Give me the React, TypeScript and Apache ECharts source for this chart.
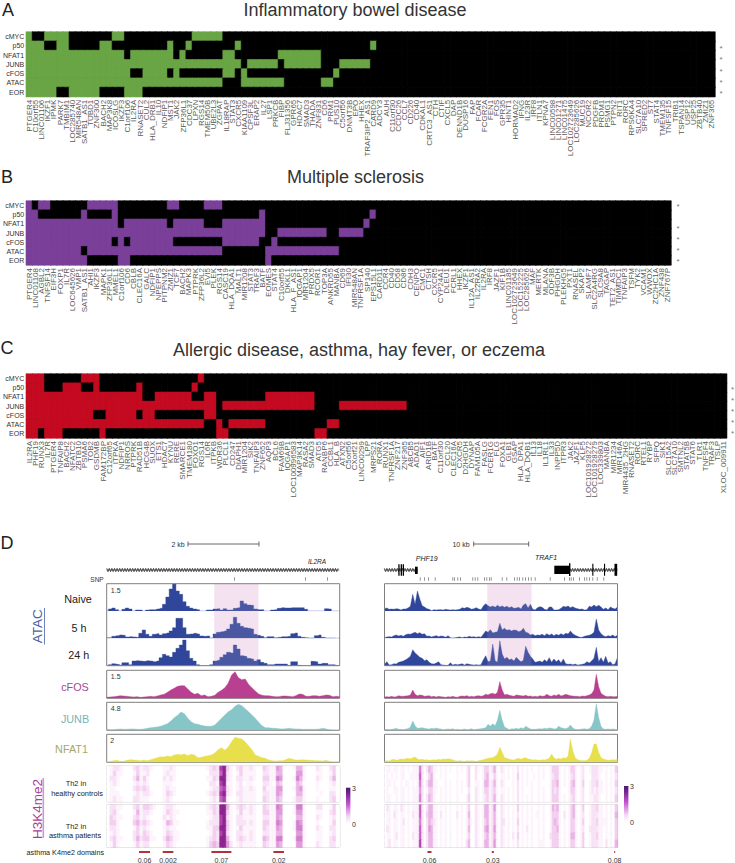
import React, { useEffect, useRef } from "react";
import * as echarts from "echarts";

const rowNames = ["cMYC", "p50", "NFAT1", "JUNB", "cFOS", "ATAC", "EOR"];

const genesA = ["PTGER4","C10orf55","LINC01106","IKZF1","IPMK","PARK7","TMBIM1","LOC285740","MIR548AN","SATB1_AS1","TUBD1","ZNF300","BACH2","MAP3K8","ICOSLG","IKZF3","C1orf106","IL2RA","RNASET2","CUL2","HLA_DRB1","IL10","NDFIP1","MST1","JAK2","ZFP36L1","CDC37","LPXN","RGS14","TMEM50B","UBE2L3","ZGPAT","IL18RAP","STAT3","CXCR5","KIAA1109","CPSF3L","ERAP2","IL27","LSP1","PRKCB","FIBP","FLJ31356","GPR65","HDAC7","SMAD3","THADA","ZNF831","CD6","PRM1","PUS10","C5orf56","DNMT3B","EPO","HHEX","TRAF3IP2_AS1","CARD9","ADCY3","AUH","C11orf30","CCDC26","CCL7","CD226","CD40","CDKAL1","CRTC3_AS1","CTH","CTIF","CXCL5","DAP","DENND1B","DUSP16","FAP","FCAR","FCGR2A","FEN1","FOS","GPR35","HINT1","HORMAD2","IFNG","IL23R","IRF8","ITLN1","KPNA7","LINC00598","LINC01271","LINC01475","LOC102723649","LOC285626","MUC19","NCOR2","PDGFB","PRDM1","PSMG1","PTPN2","RIT1","RORC","RPS6KA4","SLC7A10","SPRED2","ST7","STAT4","TMEM135","TNFSF15","TRIB1","TSPAN14","USP12","USP25","ZBTB40","ZMIZ1","ZNF365"];
const genesB = ["PTGER4","LINC01108","AGBL2","TNFSF14","EIF3H","FOXP1","IL7R","LOC645626","VMP1","SATB1_AS1","AHI1","IKZF3","MAPK1","ZFP36L1","MMEL1","C1orf106","CD6","CBLB","CLEC16A","GALC","NDFIP1","NPEPPS","PITPNM2","ZMIZ1","TCF7","BACH2","MAPK3","PTPRK","ZFP36L2","EVI5","PLEK","RGS14","CASC19","HLA_DQA1","MALT1","MIR1208","STAT3","TRAF3","BATF","EOMES","STAT4","C10orf55","DKKL1","HLA_F_AS1","IQGAP1","MIR1204","PRDX5","RCOR1","TOP3A","ANKRD55","MANBA","CD69","IFI30","MIR548AN","TNFRSF1A","SP140","EPS15L1","CARD11","CCR4","CD40","CD58","CD86","CDH3","CENPO","CMC1","CTSH","CXCR5","CYP24A1","DLEU1","FCRL1","HHEX","IKZF1","IL12A_AS1","IL22RA2","IL2RA","IRF8","JAZF1","KIF1B","LINC01185","LOC102723649","LOC152225","LOC285626","MAF","MERTK","MLANA","ODF3B","PHGDH","PLEKHG5","PXT1","RNASEL","SKAP2","SLAMF7","SLC2A4RG","SLC9A8","TAGAP","TET2_AS1","TIMMDC1","TNFAIP3","TSFM","TYK2","VCAM1","WWOX","ZC2HC1A","ZNF438","ZNF767P"];
const genesC = ["IL2RA","PHF19","RUNX3","IL7R","PTGER4","TNFAIP8","BACH2","NFATC2","ZBTB10","PSMA6","TOB2","GSDMB","FAM172BP","C12orf65","ITPKA","NDFIP1","NRROS","PTPRK","RAD51B","HCG4B","SUOX","ETS1","HDAC7","KYNU","RERE","SMARCE1","TMEM180","FOXO1","RGS14","IL6R","ITPKB","WDR36","PLCL1","CD247","DIAPH1","MIR1204","SIK2","TNFAIP3","ZNF652","AQP3","BCL6","FAM69B","IQGAP1","LOC100996583","MAP3K14","RASA2","SMAD3","ATG5","RANBP6","CCBL1","HLA_B","ATXN2","C5orf56","CXorf21","LINC00299","LPP","MRPS21","RORA","RUNX1","TNFRSF1A","ZNF217","ZNF365","ABCB5","ADAD1","AIF1","ARID1B","BATF","C11orf30","CCL20","CLEC16A","CXCR5","D2HGDH","DYNAP","FAM105A","FASLG","FCER1G","FLG","FOXA1","GLB1","GSAP","HLA_DPA1","HLA_DQB1","IL13","IL18","IL1RL1","IL33","INPP5D","ITPR3","JAK2","JAZF1","KLF5","LOC101928272","LOC101928279","LOC339803","MANBA","MIR1234","MIR146A","MIR4435_2HG","RNASET2","RORC","RTEL1","RYBP","SFPQ","SIK1","SLC15A2","SLC7A10","SMTNL2","STAT5B","STAT6","TLR1","TNFSF4","TRAF3","TSLP","XLOC_009911"];

// enrichment: column runs [first,last] switched on, per row
const onA = [
  [[0,0],[3,6],[14,15],[27,31]],
  [[0,2],[5,6],[12,13],[23,23],[26,26],[34,34],[56,56]],
  [[0,15],[17,23],[25,25],[32,33],[41,47]],
  [[0,34],[36,40],[42,47],[51,55]],
  [[0,16],[19,22],[24,24],[32,33],[35,35],[50,50]],
  [[0,31],[35,41],[48,49]],
  [[0,4],[7,11],[16,18]],
];
const onB = [
  [[0,0],[2,3],[10,14],[23,24],[29,31]],
  [[0,1],[9,9],[14,14],[38,38],[56,56]],
  [[0,14],[16,22],[24,28],[32,38],[55,55]],
  [[0,38],[41,48],[51,54]],
  [[0,13],[15,15],[17,23],[32,37],[40,40]],
  [[0,8],[10,31],[39,50]],
  [[0,9],[15,16],[39,39]],
];
const onC = [
  [[0,2],[9,11],[28,28]],
  [[0,2],[6,8],[11,11],[18,18],[27,27]],
  [[0,18],[21,26],[29,30],[39,46]],
  [[0,30],[32,46],[51,61]],
  [[0,10],[13,17],[19,20],[29,30]],
  [[0,28],[31,31],[33,38],[49,50]],
  [[0,1],[3,5],[12,12],[31,32],[47,48]],
];

// tracks, left locus (IL2RA)
const naiveL = [0,6,9,4,0,5,9,6,0,3,3,0,3,4,4,6,8,20,42,66,82,60,50,28,14,9,6,4,0,0,3,3,6,7,3,7,3,3,8,10,30,22,18,17,6,4,4,0,0,3,4,8,10,9,9,10,10,10,10,5,0,0,0,0,0,7,6,0,0,0];
const fiveL = [2,2,6,8,10,9,4,5,4,3,15,25,12,6,12,14,10,14,16,22,32,60,60,32,12,13,15,13,7,6,7,1,13,18,20,22,28,42,63,45,36,32,30,28,12,9,6,2,5,5,2,3,5,5,6,14,16,6,3,2,1,1,8,10,3,1,1,1,0,2];
const dayL = [0,3,6,4,2,9,9,3,14,15,14,13,15,14,12,14,24,34,30,26,40,52,62,77,45,22,14,3,0,0,0,3,14,16,25,33,40,38,62,50,30,28,22,20,14,18,10,7,3,3,5,5,5,5,1,12,12,1,0,0,0,13,12,5,7,7,3,3,1,0];
const cfosL = [3,4,5,6,8,7,6,5,4,5,3,4,5,6,5,7,10,12,18,25,30,36,38,38,28,18,12,15,8,10,5,6,9,18,24,32,46,70,80,62,56,58,42,32,22,13,9,8,8,6,5,5,7,7,6,5,8,13,12,6,6,8,8,6,8,10,9,5,6,5];
const junbL = [3,2,2,3,4,3,3,4,4,3,3,4,6,8,9,10,12,16,20,28,38,45,55,50,36,26,20,18,15,13,12,12,16,26,36,46,56,62,72,78,74,65,56,46,36,24,14,8,8,6,6,5,4,5,6,5,4,4,3,3,3,3,3,4,6,4,2,1,0,0];
const nfatL = [2,3,5,6,3,3,6,8,7,6,5,7,5,8,11,14,17,16,19,17,22,24,22,25,20,24,22,14,15,18,20,22,28,38,44,36,46,62,75,72,70,62,50,38,22,18,14,12,7,5,4,5,5,8,12,9,7,7,8,7,6,6,5,5,4,6,3,1,0,0];

// tracks, right locus (PHF19 / TRAF1)
const naiveR = [7,9,5,6,5,7,6,3,6,6,9,14,50,20,60,36,16,12,7,5,1,4,3,4,4,3,5,4,3,4,3,4,5,10,8,11,9,5,7,10,6,4,15,22,16,12,15,11,17,12,15,11,14,10,13,8,9,11,6,18,22,9,20,5,3,10,13,11,5,3,12,12,3,3,4,8,14,12,15,10,13,9,7,5,6,3,4,14,12,18,13,17,12,5,9,4,12,8,6,12];
const fiveR = [2,4,5,4,8,10,7,9,6,11,13,12,15,18,14,17,12,14,6,7,4,6,8,5,7,6,3,8,2,1,2,3,4,2,4,3,6,4,5,3,5,3,12,22,18,26,16,18,20,45,25,30,24,26,22,25,24,20,22,30,18,16,10,12,8,10,9,12,8,14,9,13,8,12,9,14,10,15,13,22,14,9,6,3,3,6,8,9,12,18,58,25,14,8,5,8,6,10,5,10];
const dayR = [4,12,2,3,6,5,10,12,14,18,22,28,48,38,32,25,22,15,18,10,6,5,8,12,3,2,1,1,9,2,4,3,4,6,2,6,4,3,2,3,2,3,18,30,12,14,65,15,10,75,35,20,25,18,20,14,25,18,12,16,58,40,28,20,10,12,14,10,18,12,24,10,20,12,18,8,20,6,4,5,3,5,2,3,4,6,12,8,14,22,55,12,24,10,28,8,12,3,6,25];
const cfosR = [4,5,4,6,4,5,8,6,6,7,8,10,25,12,8,10,9,6,7,8,5,6,4,6,5,4,3,5,4,6,4,3,6,7,6,8,5,6,5,7,8,6,8,12,10,14,15,12,18,50,25,10,12,9,8,6,10,9,8,7,9,6,7,5,6,5,8,6,7,12,8,6,10,8,12,7,9,12,10,8,7,6,6,5,7,6,8,10,14,25,72,35,15,10,6,5,6,5,5,6];
const junbR = [2,3,2,3,4,6,3,3,2,4,5,10,28,14,6,7,8,6,5,4,6,5,7,5,4,2,3,4,3,5,2,3,2,2,4,2,3,5,2,3,4,5,6,8,18,12,20,14,30,60,30,10,6,2,5,4,6,4,8,5,12,8,4,3,3,4,5,4,6,5,7,6,4,5,12,8,6,5,8,16,7,3,2,3,4,5,3,5,12,30,80,38,12,4,3,4,3,4,3,2];
const nfatR = [3,5,4,8,9,6,8,10,9,11,12,10,14,16,10,8,9,7,8,6,7,8,7,9,8,10,9,11,9,8,5,4,5,4,3,5,4,5,4,3,5,6,8,10,12,13,14,18,25,45,30,14,12,9,8,7,10,12,9,12,14,10,9,7,8,7,6,8,7,9,12,25,14,9,12,10,14,12,18,70,35,14,8,6,5,5,6,12,28,55,55,30,14,10,8,6,7,8,7,10];

// H3K4me2 read-density rows, one digit per bin (0 = none, 9 = highest)
const healthyL = [
  "0122100023"+"1221000112"+"1000000000"+"1232893102"+"3112100321"+"1540001441"+"0002100230",
  "0131100013"+"1120000121"+"1000000000"+"0222792101"+"3111100221"+"1440000551"+"0001100130",
  "0221000024"+"1310000212"+"1000000000"+"1132992102"+"2112100331"+"1650001641"+"0002100240",
  "0121000012"+"1210000111"+"0000000000"+"0221891101"+"2011000221"+"0430000430"+"0001000120",
  "0110000023"+"2320000121"+"1000000000"+"0122782101"+"2112100311"+"1550001451"+"0001000110",
  "0111000012"+"1221000132"+"1000000000"+"1232892102"+"2111100221"+"1540000441"+"0000100220",
  "0121100022"+"1110000121"+"0000000000"+"0121781001"+"2111100321"+"1430001331"+"0001000230",
];
const asthmaL = [
  "0221100023"+"1332100122"+"1000000000"+"1232994102"+"3212100321"+"1650001661"+"0002200130",
  "0231000014"+"1221000132"+"1100000000"+"1132993101"+"3112100331"+"1550001551"+"0001100230",
  "0321100023"+"1210000212"+"1000000000"+"0122892102"+"2111100221"+"1540000441"+"0002100120",
  "0331000034"+"2321000143"+"1100000000"+"1222893102"+"2212100331"+"1650001651"+"0001000130",
  "0221000013"+"1210000121"+"1000000000"+"1133993101"+"3111100321"+"1540001661"+"0002100220",
  "0121000023"+"1321000132"+"1100000000"+"0132892102"+"2112100221"+"1440000551"+"0001100120",
  "0231100024"+"2331100243"+"1100000000"+"1232994102"+"3212100431"+"1660001661"+"0001100230",
  "0131000013"+"1220000132"+"1000000000"+"1343995201"+"2111100321"+"1540000551"+"0002100220",
];
const healthyR = [
  "0110110110"+"1011162024"+"3110101010"+"0101013002"+"1013312410"+"2101010201"+"0101001010"+"0133310101"+"3310120012"+"2211010103",
  "0101010110"+"0111172013"+"4100101000"+"0100013002"+"0013411310"+"1101010301"+"0100101010"+"0123310101"+"2310120002"+"2210010102",
  "0110100101"+"1010162024"+"4110001010"+"0101013001"+"1014412410"+"2100010201"+"0101001000"+"0133410101"+"3410130012"+"2311010103",
  "0100110110"+"1011152013"+"3110101010"+"0101002002"+"1013312310"+"1101010201"+"0001001010"+"0132310001"+"3310120012"+"1211010102",
  "0110010110"+"1011162024"+"3100101010"+"0100013002"+"1012312410"+"2101010201"+"0101001010"+"0133310101"+"2310120011"+"2210010103",
];
const asthmaR = [
  "0210110210"+"1011172024"+"4110101010"+"0101013002"+"1014412510"+"2101010301"+"0101001010"+"0143410101"+"3410130012"+"2311010103",
  "0110210110"+"1021172034"+"4110201010"+"0201014002"+"1014412410"+"2101010201"+"0101011010"+"0133310201"+"3410120012"+"2211010104",
  "0110110120"+"1011162024"+"3210101010"+"0101013102"+"1013412410"+"2201010301"+"0101001010"+"0134310101"+"3310130012"+"2311110103",
  "0210110110"+"1011172025"+"4110101010"+"0101014002"+"1014512510"+"2101010201"+"0201001010"+"0133410101"+"3310120022"+"2211010103",
  "0110120110"+"1021172024"+"4110101010"+"0101013002"+"1013412410"+"2101020301"+"0101001010"+"0233310101"+"4410130012"+"2311010103",
  "0120110110"+"1011182024"+"4110101010"+"0101024002"+"1014412510"+"2101010201"+"0101001110"+"0133310101"+"3310130012"+"2211020104",
];
const densityPalette = ["#ffffff","#fdf4fc","#f9e3f7","#f3d0ef","#eab5e6","#e09bdc","#d27fce","#c362be","#ae42aa","#8f2591"];

const snpL = [383, 596, 662];
const snpR = [107,120,132,152,205,210,220,228,265,272,280,300,307,315,320,353,367,390,398,405,415,423,432,440,452,497,540,555,560,567,585,600,607,615,625,638,658];
const domainsL: [number, number, string][] = [[97,130,"0.06"],[168,200,"0.002"],[314,374,"0.07"],[500,532,"0.02"]];
const domainsR: [number, number, string][] = [[129,141,"0.06"],[322,328,"0.03"],[689,692,"0.08"]];

const FONT = "'Liberation Sans', Arial, sans-serif";
const ATAC_C = "#30469a", CFOS_C = "#b93f90", JUNB_C = "#86c5c8", NFAT_C = "#e7e04c";
const FRAME = "#7f7f7f";

function cell(c: number, r: number, v: number, color: string) {
  return { value: [c, r, v], itemStyle: { borderColor: color, borderWidth: 0.6 } };
}

function buildOption() {
  const grid: any[] = [], xAxis: any[] = [], yAxis: any[] = [], series: any[] = [], graphic: any[] = [], visualMap: any[] = [];

  const addGrid = (left: number, top: number, width: number, height: number, frame: boolean, x: any, y: any) => {
    grid.push({ left, top, width, height, show: frame, borderColor: FRAME, borderWidth: 1, backgroundColor: "transparent" });
    const i = grid.length - 1;
    xAxis.push({ gridIndex: i, ...x });
    yAxis.push({ gridIndex: i, ...y });
    return i;
  };
  const text = (t: string, x: number, y: number, size: number, fill: string, extra: any = {}, style: any = {}) =>
    graphic.push({
      type: "text", x, y, z: 30, silent: true, ...extra,
      style: { text: t, font: `${style.italic ? "italic " : ""}${size}px ${FONT}`, fill, align: style.align || "center", verticalAlign: "middle", textAlign: style.align || "center", textVerticalAlign: "middle" },
    });
  const line = (x1: number, y1: number, x2: number, y2: number, stroke: string, w = 0.8) =>
    graphic.push({ type: "line", z: 30, silent: true, shape: { x1, y1, x2, y2 }, style: { stroke, lineWidth: w } });
  const block = (x: number, y: number, width: number, height: number, fill = "#000") =>
    graphic.push({ type: "rect", z: 31, silent: true, shape: { x, y, width, height }, style: { fill } });
  const hatch = (x1: number, x2: number, y: number) => {
    const pts: number[][] = [];
    let up = true;
    for (let x = x1; x <= x2; x += 1.3) { pts.push([x, y + (up ? -1.7 : 1.7)]); up = !up; }
    graphic.push({ type: "polyline", z: 29, silent: true, shape: { points: pts }, style: { stroke: "#333", fill: "none", lineWidth: 0.8 } });
    line(x1, y, x2, y, "#333", 0.7);
  };

  // --- enrichment heatmaps
  const enrichment = (genes: string[], on: number[][][], color: string, left: number, top: number, width: number, height: number) => {
    const i = addGrid(left, top, width, height, false,
      { type: "category", data: genes, axisLine: { show: false }, axisTick: { show: false }, splitLine: { show: false },
        axisLabel: { interval: 0, rotate: 90, fontSize: 8, color: "#5a5a5a", margin: 3, fontFamily: FONT } },
      { type: "category", data: rowNames, inverse: true, axisLine: { show: false }, axisTick: { show: false }, splitLine: { show: false },
        axisLabel: { fontSize: 7, color: "#333", margin: 2, fontFamily: FONT } });
    const data: any[] = [];
    on.forEach((runs, r) => genes.forEach((_, c) => {
      const hit = runs.some(([a, b]) => c >= a && c <= b);
      data.push(cell(c, r, hit ? 1 : 0, hit ? color : "#000000"));
    }));
    series.push({ type: "heatmap", xAxisIndex: i, yAxisIndex: i, data, progressive: 0 });
    visualMap.push({ show: false, type: "continuous", min: 0, max: 1, dimension: 2, seriesIndex: series.length - 1, inRange: { color: ["#000000", color] } });
  };
  enrichment(genesA, onA, "#69a545", 26, 32, 689, 64.7);
  enrichment(genesB, onB, "#7a3f98", 25.3, 201, 645.7, 64);
  enrichment(genesC, onC, "#c40a20", 25.3, 374, 701.4, 64);

  // --- signal tracks
  const track = (vals: number[], color: string, left: number, top: number, height: number, frame: boolean, step: boolean) => {
    const i = addGrid(left, top, 233, height, frame,
      { type: "category", show: false, boundaryGap: false, data: vals.map((_, k) => k) },
      { type: "value", show: false, min: 0, max: height * 3, splitLine: { show: false } });
    series.push({ type: "line", xAxisIndex: i, yAxisIndex: i, data: vals, showSymbol: false, step: step ? "middle" : false,
      lineStyle: { width: 0.4, color }, itemStyle: { color }, areaStyle: { color, opacity: 1 }, clip: true });
  };
  const LX = 106.7, RX = 384.5;
  track(naiveL, ATAC_C, LX, 583.7, 27.3, false, true);
  track(fiveL, ATAC_C, LX, 611, 27.3, false, true);
  track(dayL, ATAC_C, LX, 638.3, 27.4, false, true);
  track(naiveR, ATAC_C, RX, 583.7, 27.3, false, false);
  track(fiveR, ATAC_C, RX, 611, 27.3, false, false);
  track(dayR, ATAC_C, RX, 638.3, 27.4, false, false);
  track(cfosL, CFOS_C, LX, 670.3, 28, true, false);
  track(junbL, JUNB_C, LX, 702.3, 28, true, false);
  track(nfatL, NFAT_C, LX, 734.3, 28, true, false);
  track(cfosR, CFOS_C, RX, 670.3, 28, true, false);
  track(junbR, JUNB_C, RX, 702.3, 28, true, false);
  track(nfatR, NFAT_C, RX, 734.3, 28, true, false);

  // --- H3K4me2 heatmaps
  const densitySeries: number[] = [];
  const density = (rows: string[], left: number, top: number, height: number) => {
    const cols = rows[0].length;
    const i = addGrid(left, top, 233, height, true,
      { type: "category", show: false, data: Array.from({ length: cols }, (_, k) => k) },
      { type: "category", show: false, inverse: true, data: rows.map((_, k) => k) });
    const data: any[] = [];
    rows.forEach((row, r) => { for (let c = 0; c < cols; c++) data.push(cell(c, r, Number(row[c]), densityPalette[Number(row[c])])); });
    series.push({ type: "heatmap", xAxisIndex: i, yAxisIndex: i, data, progressive: 0, z: 1 });
    densitySeries.push(series.length - 1);
  };
  density(healthyL, LX, 766.3, 35.4);
  density(asthmaL, LX, 805, 42);
  density(healthyR, RX, 766.3, 35.4);
  density(asthmaR, RX, 805, 42);
  visualMap.push({ show: false, type: "continuous", min: 0, max: 9, dimension: 2, seriesIndex: densitySeries, inRange: { color: densityPalette } });

  // --- SNP ticks
  const snp = (pos: number[], left: number, w: number) => {
    const i = addGrid(left, 577, w, 4, false,
      { type: "value", show: false, min: 0, max: w * 3, splitLine: { show: false } },
      { type: "value", show: false, min: 0, max: 1, splitLine: { show: false } });
    series.push({ type: "scatter", xAxisIndex: i, yAxisIndex: i, symbol: "rect", symbolSize: [0.7, 3.5], itemStyle: { color: "#444" },
      data: pos.map((p) => [p, 0.5]) });
  };
  snp(snpL, LX, 233);
  snp(snpR, RX, 233);

  // --- asthma domains
  const domains = (rows: [number, number, string][], left: number) => {
    const i = addGrid(left, 851, 233, 2, false,
      { type: "value", show: false, min: 0, max: 699, splitLine: { show: false } },
      { type: "value", show: false, min: 0, max: 1, splitLine: { show: false } });
    series.push({
      type: "custom", xAxisIndex: i, yAxisIndex: i, clip: false,
      data: rows.map((d) => [d[0], d[1], d[2]]),
      renderItem: (_: any, api: any) => {
        const a = api.coord([api.value(0), 1]);
        const b = api.coord([api.value(1), 0]);
        return {
          type: "group",
          children: [
            { type: "rect", shape: { x: a[0], y: a[1], width: Math.max(1, b[0] - a[0]), height: b[1] - a[1] }, style: { fill: "#b3323a" } },
            { type: "text", x: (a[0] + b[0]) / 2, y: a[1] + 9, style: { text: api.value(2), font: `7px ${FONT}`, fill: "#333", align: "center", verticalAlign: "middle" } },
          ],
        };
      },
      encode: { x: [0, 1], y: 0 },
      dimensions: [{ type: "number" }, { type: "number" }, { type: "ordinal" }],
    });
  };
  domains(domainsL, LX);
  domains(domainsR, RX);

  // --- titles and panel letters
  text("Inflammatory bowel disease", 355, 9.5, 18, "#333");
  text("Multiple sclerosis", 355.5, 177, 18, "#333");
  text("Allergic disease, asthma, hay fever, or eczema", 359, 350, 18, "#333");
  text("A", 8, 10, 18, "#222");
  text("B", 7, 177, 18, "#222");
  text("C", 7, 348, 18, "#222");
  text("D", 7, 543, 18, "#222");

  // --- significance marks
  [47.7, 58.7, 70, 81, 92].forEach((y) => text("*", 721, y + 1, 8, "#777"));
  [205, 227.3, 238.3, 249.7, 260.7].forEach((y) => text("*", 678, y + 1, 8, "#777"));
  [388.7, 399.7, 410.3, 421.7, 432.7].forEach((y) => text("*", 732.5, y + 1, 8, "#777"));

  // --- ATAC frames and shading
  [LX, RX].forEach((x, k) => {
    graphic.push({ type: "rect", z: -1, silent: true, shape: { x: k ? 487.3 : 214.3, y: 584, width: 44.2, height: 81.5 }, style: { fill: "#f6e7f3" } });
    graphic.push({ type: "rect", z: 8, silent: true, shape: { x: k ? 487.3 : 214.3, y: 584, width: 44.2, height: 81.5 }, style: { fill: "rgba(232,200,225,0.14)" } });
    graphic.push({ type: "rect", z: 25, silent: true, shape: { x, y: 583.7, width: 233, height: 82 }, style: { fill: "none", stroke: FRAME, lineWidth: 1 } });
  });

  // --- scale bars
  text("2 kb", 178, 544, 7, "#333");
  line(188, 544, 259, 544, "#444"); line(188, 541.5, 188, 546.5, "#444"); line(259, 541.5, 259, 546.5, "#444");
  text("10 kb", 461, 544.5, 7, "#333");
  line(473.7, 544, 528.7, 544, "#444"); line(473.7, 541.5, 473.7, 546.5, "#444"); line(528.7, 541.5, 528.7, 546.5, "#444");

  // --- gene models
  hatch(106.7, 339.3, 570);
  text("IL2RA", 317, 561.7, 6.5, "#222", {}, { italic: true });
  text("SNP", 97, 579.3, 6.5, "#333");
  hatch(384.3, 418, 570);
  block(398.3, 564.3, 1.3, 11.4); block(400.7, 564.3, 1.3, 11.4); block(402.7, 564.3, 1.3, 11.4); block(415, 566.7, 2.7, 7.3);
  text("PHF19", 426.7, 558.5, 7, "#222", {}, { italic: true });
  block(554.3, 565.7, 14.7, 8.3); block(569, 563.3, 1.4, 12.7);
  hatch(570, 617.7, 570);
  block(592.3, 563.8, 1.1, 12); block(604, 563.8, 1.1, 12); block(614.5, 563.8, 2.7, 12);
  text("TRAF1", 546, 557.5, 7, "#222", {}, { italic: true });

  // --- row labels
  text("1.5", 115.7, 590, 7, "#333");
  text("1.5", 115.7, 676.7, 7, "#333");
  text("4.8", 115.7, 708.3, 7, "#333");
  text("2", 112.3, 740.7, 7, "#333");
  text("ATAC", 37.5, 626.3, 13.5, "#4a60a8", { rotation: Math.PI / 2 });
  line(44.5, 608, 44.5, 644.5, "#4a60a8", 0.8);
  text("Naive", 78, 599, 10.8, "#222");
  text("5 h", 79, 627.7, 10.8, "#222");
  text("24 h", 78.7, 655, 10.8, "#222");
  text("cFOS", 75, 687.3, 10.8, "#a5478f");
  text("JUNB", 75, 719, 10.8, "#74b4b6");
  text("NFAT1", 71.5, 748.7, 10.8, "#a5a86c");
  text("H3K4me2", 37.5, 809, 13.5, "#a8409a", { rotation: Math.PI / 2 });
  line(43.3, 778, 43.3, 838, "#c99ad2", 1.6);
  text("Th2 in", 76, 783.7, 7.4, "#222");
  text("healthy controls", 77, 793, 7.4, "#222");
  text("Th2 in", 76, 826, 7.4, "#222");
  text("asthma patients", 75, 835, 7.4, "#222");
  text("asthma K4me2 domains", 65.3, 852.7, 7.2, "#222");

  // --- colour bars
  [[346, 787.7, 354], [624, 786, 632]].forEach(([x, y, tx]) => {
    graphic.push({
      type: "rect", z: 30, silent: true, shape: { x, y, width: 4.4, height: 36 },
      style: { fill: new echarts.graphic.LinearGradient(0, 0, 0, 1, [
        { offset: 0, color: "#4a1a70" }, { offset: 0.12, color: "#6a1f88" }, { offset: 0.45, color: "#c453d0" }, { offset: 0.8, color: "#f2d8f2" }, { offset: 1, color: "#ffffff" },
      ]) },
    });
    text("3", tx, y + 0.5, 7, "#333");
    text("0", tx, y + 36.5, 7, "#333");
  });

  return { animation: false, backgroundColor: "#ffffff", grid, xAxis, yAxis, series, visualMap, graphic: { elements: graphic } };
}

export default function App() {
  const ref = useRef<HTMLDivElement>(null);
  useEffect(() => {
    const chart = echarts.init(ref.current!, undefined, { renderer: "svg" });
    chart.setOption(buildOption() as any);
    return () => chart.dispose();
  }, []);
  return <div ref={ref} style={{ position: "absolute", left: 0, top: 0, width: 735, height: 863 }} />;
}
